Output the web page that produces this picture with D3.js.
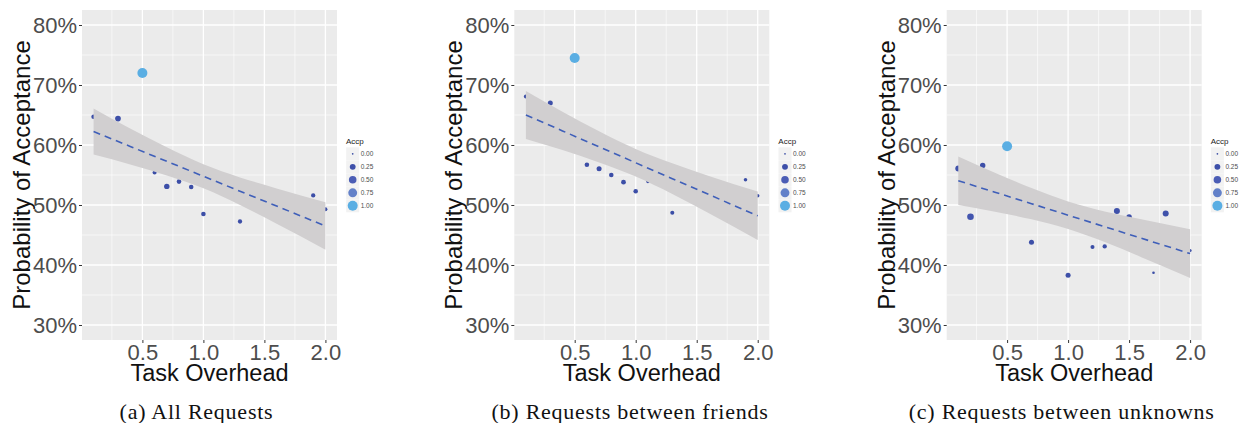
<!DOCTYPE html>
<html>
<head>
<meta charset="utf-8">
<script src="https://cdn.jsdelivr.net/npm/d3@7"></script>
<style>
  body { margin: 0; background: #fff; }
  svg text { font-family: "Liberation Sans", Arial, sans-serif; }
</style>
</head>
<body>
<div id="chart"></div>
<script>
// data (probabilities in %)
var overheadA = [0.1, 0.3, 0.5, 0.6, 0.7, 0.8, 0.9, 1.0, 1.3, 1.9, 2.0];
var acceptA   = [64.7, 64.4, 72.0, 55.4, 53.1, 53.9, 53.0, 48.5, 47.25, 51.6, 49.3];
var accpA     = [0.12, 0.23, 1, 0.08, 0.2, 0.12, 0.12, 0.12, 0.1, 0.1, 0.08];

var overheadB = [0.1, 0.3, 0.5, 0.6, 0.7, 0.8, 0.9, 1.0, 1.1, 1.3, 1.9, 2.0];
var acceptB   = [68.1, 67.0, 74.5, 56.7, 56.05, 55.0, 53.8, 52.3, 53.9, 48.7, 54.2, 51.55];
var accpB     = [0.08, 0.16, 1, 0.12, 0.16, 0.12, 0.14, 0.12, 0.04, 0.08, 0.05, 0.05];

var overheadC = [0.1, 0.2, 0.3, 0.5, 0.7, 1.0, 1.2, 1.3, 1.4, 1.5, 1.7, 1.8, 2.0];
var acceptC   = [56.1, 48.05, 56.6, 59.8, 43.8, 38.3, 43.0, 43.1, 49.0, 48.0, 38.7, 48.6, 42.4];
var accpC     = [0.27, 0.35, 0.2, 1, 0.16, 0.16, 0.08, 0.1, 0.27, 0.2, 0.012, 0.27, 0.025];

// fitted line and confidence band
var fitX   = [0.1, 0.4, 0.7, 1.0, 1.3, 1.6, 2.0];
var fitA   = [62.25, 59.76, 57.28, 54.79, 52.30, 49.82, 46.5];
var upperA = [66.1, 62.76, 59.63, 56.79, 54.6, 52.77, 50.45];
var lowerA = [58.4, 56.76, 54.93, 52.79, 50.0, 46.87, 42.55];
var fitB   = [65.0, 62.35, 59.70, 57.04, 54.39, 51.74, 48.2];
var upperB = [69.0, 65.55, 62.3, 59.34, 56.94, 54.84, 52.25];
var lowerB = [61.0, 59.15, 57.1, 54.74, 51.84, 48.64, 44.15];
var fitC   = [54.05, 52.13, 50.22, 48.3, 46.38, 44.46, 41.9];
var upperC = [58.1, 55.38, 52.82, 50.6, 48.93, 47.61, 45.95];
var lowerC = [50.0, 48.88, 47.62, 46.0, 43.83, 41.31, 37.85];

var xTicks = [0.5, 1.0, 1.5, 2.0];
var xMinor = [0.25, 0.75, 1.25, 1.75];
var yTicks = [30, 40, 50, 60, 70, 80];
var yMinor = [35, 45, 55, 65, 75];
var legendVals = [0, 0.25, 0.5, 0.75, 1];
var captions = ["(a) All Requests", "(b) Requests between friends", "(c) Requests between unknowns"];

var panels = [
  {x: overheadA, y: acceptA, a: accpA, fit: fitA, up: upperA, lo: lowerA, left: 82,    cap: 196.5},
  {x: overheadB, y: acceptB, a: accpB, fit: fitB, up: upperB, lo: lowerB, left: 514.3, cap: 630},
  {x: overheadC, y: acceptC, a: accpC, fit: fitC, up: upperC, lo: lowerC, left: 946.7, cap: 1061.7}
];

var W = 1243, H = 423;
var pw = 255, ph = 330, mt = 10;

var svg = d3.select("#chart").append("svg")
  .attr("width", W).attr("height", H);

var x = d3.scaleLinear().domain([0.005, 2.095]).range([0, pw]);
var y = d3.scaleLinear().domain([27.5, 82.5]).range([ph, 0]);
var r = d3.scaleSqrt().domain([0, 1]).range([0.85, 5]);
var color = d3.scaleLinear()
  .domain([0, 0.25, 0.5, 0.75, 1])
  .range(["#3a4da5", "#3e50a9", "#4b5db5", "#6381c9", "#5aaee3"])
  .interpolate(d3.interpolateLab);

panels.forEach(function(p, i) {
  var g = svg.append("g").attr("transform", "translate(" + p.left + "," + mt + ")");

  g.append("rect").attr("width", pw).attr("height", ph).attr("fill", "#ebebeb");

  // grid
  g.selectAll(".vminor").data(xMinor).enter().append("line")
    .attr("x1", d => x(d)).attr("x2", d => x(d)).attr("y1", 0).attr("y2", ph)
    .attr("stroke", "#fff").attr("stroke-width", 0.6);
  g.selectAll(".hminor").data(yMinor).enter().append("line")
    .attr("y1", d => y(d)).attr("y2", d => y(d)).attr("x1", 0).attr("x2", pw)
    .attr("stroke", "#fff").attr("stroke-width", 0.6);
  g.selectAll(".vmajor").data(xTicks).enter().append("line")
    .attr("x1", d => x(d)).attr("x2", d => x(d)).attr("y1", 0).attr("y2", ph)
    .attr("stroke", "#fff").attr("stroke-width", 1.3);
  g.selectAll(".hmajor").data(yTicks).enter().append("line")
    .attr("y1", d => y(d)).attr("y2", d => y(d)).attr("x1", 0).attr("x2", pw)
    .attr("stroke", "#fff").attr("stroke-width", 1.3);

  // points
  var pts = p.x.map(function(v, j) { return {x: v, y: p.y[j], a: p.a[j]}; });
  g.selectAll(".pt").data(pts).enter().append("circle")
    .attr("cx", d => x(d.x)).attr("cy", d => y(d.y))
    .attr("r", d => r(d.a)).attr("fill", d => color(d.a));

  // confidence band + dashed fit
  var band = fitX.map(function(v, j) { return {x: v, lo: p.lo[j], up: p.up[j], f: p.fit[j]}; });
  g.append("path").datum(band)
    .attr("d", d3.area().x(d => x(d.x)).y0(d => y(d.lo)).y1(d => y(d.up)).curve(d3.curveMonotoneX))
    .attr("fill", "#d1cfd0");
  g.append("path").datum(band)
    .attr("d", d3.line().x(d => x(d.x)).y(d => y(d.f)))
    .attr("fill", "none").attr("stroke", "#3f5fb9").attr("stroke-width", 1.6)
    .attr("stroke-dasharray", "7,5");

  // axes
  var ya = g.append("g").call(d3.axisLeft(y).tickValues(yTicks).tickSize(3).tickPadding(2)
    .tickFormat(d => d + "%"));
  var xa = g.append("g").attr("transform", "translate(0," + ph + ")")
    .call(d3.axisBottom(x).tickValues(xTicks).tickSize(3).tickPadding(1).tickFormat(d3.format(".1f")));
  [ya, xa].forEach(function(a) {
    a.select(".domain").remove();
    a.selectAll(".tick line").attr("stroke", "#333");
    a.selectAll(".tick text").attr("fill", "#4d4d4d").style("font-size", "22px");
  });

  // axis titles
  g.append("text")
    .attr("transform", "translate(" + (-52) + "," + (ph / 2) + ") rotate(-90)")
    .attr("text-anchor", "middle").style("font-size", "24px").attr("fill", "#111")
    .text("Probability of Acceptance");
  g.append("text")
    .attr("x", pw / 2).attr("y", ph + 41)
    .attr("text-anchor", "middle").style("font-size", "23.5px").attr("fill", "#111")
    .text("Task Overhead");

  // legend
  var lg = g.append("g").attr("transform", "translate(264,0)");
  lg.append("text").attr("x", 0).attr("y", 134).style("font-size", "8px").attr("fill", "#222").text("Accp");
  var items = lg.selectAll(".key").data(legendVals).enter().append("g")
    .attr("transform", (d, j) => "translate(0," + (143.8 + j * 13) + ")");
  items.append("rect").attr("x", 0.2).attr("y", -6.5).attr("width", 13).attr("height", 13).attr("fill", "#f2f2f2");
  items.append("circle").attr("cx", 6.7).attr("cy", 0).attr("r", d => r(d)).attr("fill", d => color(d));
  items.append("text").attr("x", 14.7).attr("y", 2.3).style("font-size", "6.5px").attr("fill", "#4d4d4d")
    .text(d => d3.format(".2f")(d));

  // caption
  svg.append("text")
    .attr("x", p.cap).attr("y", 419).attr("text-anchor", "middle")
    .style("font-family", "'Liberation Serif', 'Times New Roman', serif")
    .style("font-size", "22px").style("letter-spacing", "0.75px").attr("fill", "#111")
    .text(captions[i]);
});
</script>
</body>
</html>
